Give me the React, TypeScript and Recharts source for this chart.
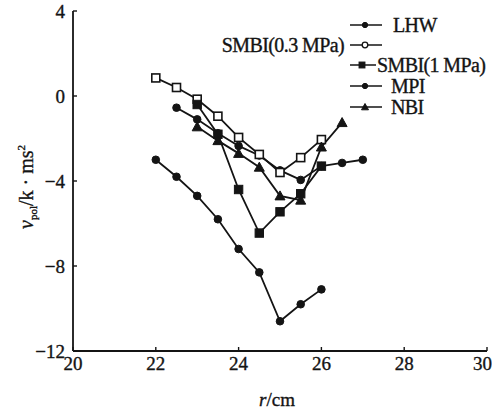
import React from "react";
import { LineChart, Line, XAxis, YAxis, Customized } from "recharts";

// ---- data ----
const xTicks = [20, 22, 24, 26, 28, 30];
const yTicks = [-12, -8, -4, 0, 4];

const lhwR = [22.5, 23, 23.5, 24, 24.5, 25, 25.5, 26, 26.5, 27];
const lhwV = [-0.55, -1.1, -1.75, -2.35, -2.8, -3.5, -3.95, -3.3, -3.15, -3.0];

const smbi03R = [22, 22.5, 23, 23.5, 24, 24.5, 25, 25.5, 26];
const smbi03V = [0.85, 0.4, -0.15, -0.95, -1.95, -2.75, -3.6, -2.9, -2.05];

const smbi1R = [23, 23.5, 24, 24.5, 25, 25.5, 26];
const smbi1V = [-0.4, -1.8, -4.4, -6.45, -5.45, -4.6, -3.3];

const mpiR = [22, 22.5, 23, 23.5, 24, 24.5, 25, 25.5, 26];
const mpiV = [-3.0, -3.8, -4.7, -5.8, -7.2, -8.3, -10.6, -9.8, -9.1];

const nbiR = [23, 23.5, 24, 24.5, 25, 25.5, 26, 26.5];
const nbiV = [-1.45, -2.1, -2.7, -3.35, -4.7, -4.9, -2.4, -1.25];

const legendNames = ["LHW", "SMBI(0.3 MPa)", "SMBI(1 MPa)", "MPI", "NBI"];

const toRows = (rs: number[], vs: number[]) => rs.map((r, i) => ({ r, v: vs[i] }));

const INK = "#141414";
const FONT = "'Liberation Serif', 'DejaVu Serif', serif";

type Shape = "circle" | "openSquare" | "square" | "triangle";

const Marker = ({ cx, cy, shape, s = 1 }: { cx: number; cy: number; shape: Shape; s?: number }) => {
  if (shape === "circle") return <circle cx={cx} cy={cy} r={3.8 * s} fill={INK} stroke={INK} strokeWidth={1} />;
  if (shape === "openSquare") {
    const h = 4 * s;
    return <rect x={cx - h} y={cy - h} width={2 * h} height={2 * h} fill="#fff" stroke={INK} strokeWidth={1.6} />;
  }
  if (shape === "square") {
    const h = 4.2 * s;
    return <rect x={cx - h} y={cy - h} width={2 * h} height={2 * h} fill={INK} stroke={INK} strokeWidth={1} />;
  }
  const h = 5 * s;
  return (
    <polygon
      points={`${cx},${cy - h} ${cx - h},${cy + h * 0.8} ${cx + h},${cy + h * 0.8}`}
      fill={INK}
      stroke={INK}
      strokeWidth={1}
    />
  );
};

const dotFn = (shape: Shape) => (p: any) => <Marker key={`m-${shape}-${p.index}`} cx={p.cx} cy={p.cy} shape={shape} />;

const textProps = { fontFamily: FONT, fill: INK, stroke: INK, strokeWidth: 0.35 };

const YLabel = (props: any) => {
  const vb = props.viewBox || { x: 0, y: 10, width: 73, height: 341 };
  const cx = 33;
  const cy = vb.y + vb.height / 2 + 6;
  return (
    <text x={cx} y={cy} transform={`rotate(-90, ${cx}, ${cy})`} textAnchor="middle" fontSize={20} {...textProps}>
      <tspan fontStyle="italic">ν</tspan>
      <tspan fontSize={11} dy={4}>pol</tspan>
      <tspan dy={-4}>/k · ms</tspan>
      <tspan fontSize={11} dy={-8}>2</tspan>
    </text>
  );
};

const XLabel = (props: any) => {
  const vb = props.viewBox || { x: 73, y: 351, width: 414, height: 41 };
  const cx = vb.x + vb.width / 2 - 3;
  return (
    <text x={cx} y={406} textAnchor="middle" fontSize={19} {...textProps}>
      <tspan fontStyle="italic">r</tspan>
      <tspan>/cm</tspan>
    </text>
  );
};

const LegendBox = () => {
  const rows: { name: string; shape: Shape; y: number; textX: number; anchor: "start" | "end" }[] = [
    { name: legendNames[0], shape: "circle", y: 25, textX: 393, anchor: "start" },
    { name: legendNames[1], shape: "openSquare", y: 45, textX: 344, anchor: "end" },
    { name: legendNames[2], shape: "square", y: 65, textX: 377, anchor: "start" },
    { name: legendNames[3], shape: "circle", y: 86, textX: 391, anchor: "start" },
    { name: legendNames[4], shape: "triangle", y: 107, textX: 391, anchor: "start" },
  ];
  return (
    <g>
      {rows.map((r) => (
        <g key={r.name}>
          <line x1={350} x2={r.shape === "square" ? 376 : 382} y1={r.y} y2={r.y} stroke={INK} strokeWidth={1.5} />
          {r.shape === "openSquare" ? (
            <circle cx={365} cy={r.y} r={2.8} fill="#fff" stroke={INK} strokeWidth={1.3} />
          ) : (
            <Marker cx={r.shape === "square" ? 362 : 365} cy={r.y} shape={r.shape} s={0.7} />
          )}
          <text x={r.textX} y={r.y + 7} textAnchor={r.anchor} fontSize={20} letterSpacing={-0.6} {...textProps}>
            {r.name}
          </text>
        </g>
      ))}
    </g>
  );
};

const tickStyle = { fontFamily: FONT, fontSize: 19, fill: INK, stroke: INK, strokeWidth: 0.35 };
const fmt = (v: number) => String(v).replace("-", "\u2212");

export default function App() {
  const series: { key: string; rows: { r: number; v: number }[]; shape: Shape }[] = [
    { key: "LHW", rows: toRows(lhwR, lhwV), shape: "circle" },
    { key: "SMBI03", rows: toRows(smbi03R, smbi03V), shape: "openSquare" },
    { key: "SMBI1", rows: toRows(smbi1R, smbi1V), shape: "square" },
    { key: "MPI", rows: toRows(mpiR, mpiV), shape: "circle" },
    { key: "NBI", rows: toRows(nbiR, nbiV), shape: "triangle" },
  ];
  return (
    <div style={{ position: "absolute", left: 0, top: 0, width: 492, height: 412, background: "#fff" }}>
      <LineChart width={492} height={412} margin={{ top: 11, right: 5, bottom: 20, left: 0 }}>
        <XAxis
          dataKey="r"
          type="number"
          domain={[20, 30]}
          ticks={xTicks}
          allowDuplicatedCategory={false}
          axisLine={{ stroke: INK, strokeWidth: 1.8 }}
          tickLine={{ stroke: INK, strokeWidth: 1.4 }}
          tickSize={-4}
          tickMargin={10}
          tick={tickStyle}
          tickFormatter={fmt}
          height={41}
          label={<XLabel />}
        />
        <XAxis
          xAxisId="top"
          orientation="top"
          dataKey="r"
          type="number"
          domain={[20, 30]}
          tick={false}
          tickLine={false}
          height={0}
          axisLine={{ stroke: INK, strokeWidth: 1.5 }}
        />
        <YAxis
          type="number"
          domain={[-12, 4]}
          ticks={yTicks}
          axisLine={{ stroke: INK, strokeWidth: 1.8 }}
          tickLine={{ stroke: INK, strokeWidth: 1.4 }}
          tickSize={-4}
          tickMargin={12}
          tick={tickStyle}
          tickFormatter={fmt}
          width={73}
          label={<YLabel />}
        />
        <YAxis
          yAxisId="right"
          orientation="right"
          type="number"
          domain={[-12, 4]}
          tick={false}
          tickLine={false}
          width={0}
          axisLine={{ stroke: INK, strokeWidth: 1.5 }}
        />
        {series.map((s) => (
          <Line
            key={s.key}
            data={s.rows}
            dataKey="v"
            type="linear"
            stroke={INK}
            strokeWidth={1.8}
            dot={dotFn(s.shape)}
            isAnimationActive={false}
          />
        ))}
        <Customized component={LegendBox} />
      </LineChart>
    </div>
  );
}
